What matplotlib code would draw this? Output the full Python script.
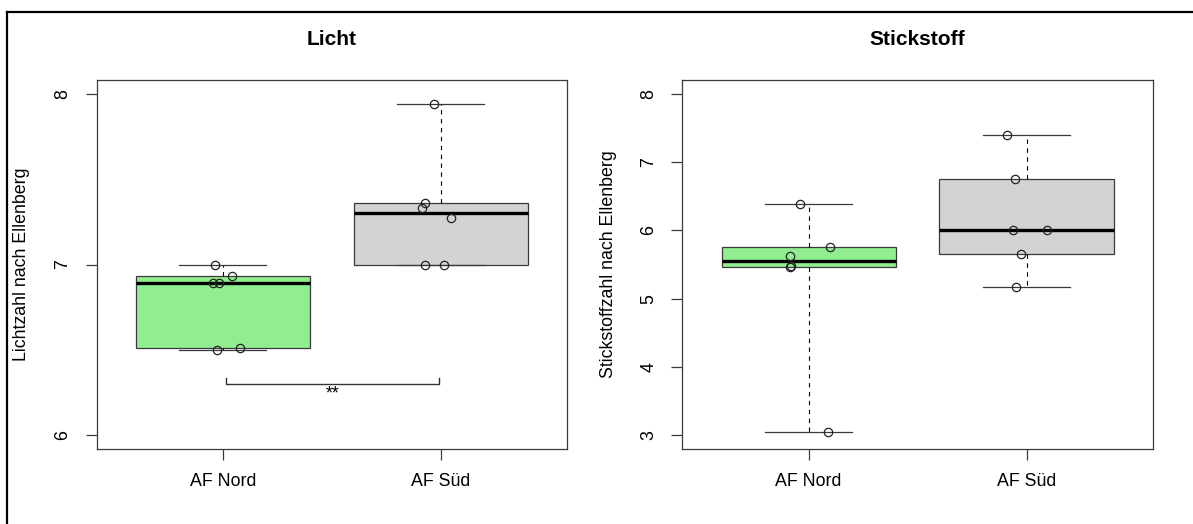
"""
Ellenberg indicator values (Licht / Stickstoff) for AF Nord vs AF Süd,
drawn as R-style boxplots with jittered raw points.
"""
import matplotlib
matplotlib.use("Agg")
import matplotlib.pyplot as plt
from matplotlib.lines import Line2D
import numpy as np

plt.rcParams["font.family"] = ["Liberation Sans", "DejaVu Sans"]

GROUPS = ["AF Nord", "AF Süd"]
BOX_COLORS = ["#90EE90", "#D3D3D3"]

# Licht (light indicator) values and their jittered x positions
licht_nord = [7.00, 6.93, 6.89, 6.89, 6.50, 6.51]
licht_nord_x = [0.963, 1.044, 0.956, 0.982, 0.972, 1.079]
licht_sued = [7.94, 7.36, 7.33, 7.27, 7.00, 7.00]
licht_sued_x = [1.967, 1.926, 1.912, 2.046, 1.928, 2.017]

# Stickstoff (nitrogen indicator) values and jittered x positions
stick_nord = [6.38, 5.75, 5.63, 5.47, 5.48, 3.05]
stick_nord_x = [0.959, 1.099, 0.914, 0.912, 0.918, 1.090]
stick_sued = [7.40, 6.75, 6.00, 6.00, 5.65, 5.17]
stick_sued_x = [1.908, 1.947, 1.938, 2.095, 1.974, 1.952]

# significance bracket for Licht
sig_x = [1.014, 1.991]
sig_y = 6.30
sig_tip = 6.335
sig_label = "**"
sig_label_y = 6.24

EDGE = "#3a3a3a"
FS = 12.8


def fivenum_stats(values, label):
    """Tukey hinges like R's boxplot, whiskers to the extremes."""
    v = np.sort(np.asarray(values, dtype=float))
    n = len(v)
    half = (n + 1) // 2
    lower = v[:half]
    upper = v[n - half:]
    return {
        "med": float(np.median(v)),
        "q1": float(np.median(lower)),
        "q3": float(np.median(upper)),
        "whislo": float(v.min()),
        "whishi": float(v.max()),
        "fliers": [],
        "label": label,
    }


def r_boxplot(ax, data, xs, title, ylabel, ylim, yticks):
    stats = [fivenum_stats(d, g) for d, g in zip(data, GROUPS)]
    bp = ax.bxp(
        stats, positions=[1, 2], widths=0.8, patch_artist=True,
        showfliers=False, capwidths=0.4,
        boxprops=dict(edgecolor=EDGE, linewidth=0.9),
        medianprops=dict(color="black", linewidth=2.4, solid_capstyle="butt"),
        whiskerprops=dict(color="black", linewidth=0.8, linestyle=(0, (4, 4))),
        capprops=dict(color=EDGE, linewidth=0.9),
    )
    for patch, c in zip(bp["boxes"], BOX_COLORS):
        patch.set_facecolor(c)
    for d, x in zip(data, xs):
        ax.plot(x, d, linestyle="none", marker="o", markersize=6,
                markerfacecolor="none", markeredgecolor="#222222",
                markeredgewidth=0.9, zorder=5)

    lo, hi = ylim
    pad = (hi - lo) * 0.04
    ax.set_ylim(lo - pad, hi + pad)
    ax.set_xlim(0.5 - 0.04 * 2, 2.5 + 0.04 * 2)
    ax.set_yticks(yticks)
    ax.set_yticklabels([str(t) for t in yticks], rotation=90, va="center")
    ax.set_xticks([1, 2])
    ax.set_xticklabels(GROUPS)
    ax.tick_params(axis="both", labelsize=FS, length=8, width=0.9, color=EDGE)
    ax.tick_params(axis="x", pad=9)
    ax.tick_params(axis="y", pad=10)
    for s in ax.spines.values():
        s.set_color(EDGE)
        s.set_linewidth(0.9)
    ax.set_title(title, fontsize=15, fontweight="bold", pad=25)
    ax.set_ylabel(ylabel, fontsize=FS, va="center")


fig = plt.figure(figsize=(11.93, 5.24), dpi=100)
ax1 = fig.add_axes([0.0809, 0.1431, 0.3944, 0.7042])
ax2 = fig.add_axes([0.5719, 0.1431, 0.3946, 0.7042])

r_boxplot(ax1, [licht_nord, licht_sued], [licht_nord_x, licht_sued_x],
          "Licht", "Lichtzahl nach Ellenberg", (6, 8), [6, 7, 8])
ax1.yaxis.set_label_coords(-0.160, 0.5)
ax1.plot([sig_x[0], sig_x[0], sig_x[1], sig_x[1]],
         [sig_tip, sig_y, sig_y, sig_tip], color="#333333", linewidth=1.0)
ax1.text(np.mean(sig_x), sig_label_y, sig_label, ha="center", va="center",
         fontsize=FS)

r_boxplot(ax2, [stick_nord, stick_sued], [stick_nord_x, stick_sued_x],
          "Stickstoff", "Stickstoffzahl nach Ellenberg", (3, 8),
          [3, 4, 5, 6, 7, 8])
ax2.yaxis.set_label_coords(-0.157, 0.5)

# screenshot frame: top and left edge only
W, H = 1193, 524
fig.add_artist(Line2D([7 / W, 1], [1 - 12 / H, 1 - 12 / H],
                      transform=fig.transFigure, color="black", linewidth=1.6))
fig.add_artist(Line2D([7 / W, 7 / W], [0, 1 - 12 / H],
                      transform=fig.transFigure, color="black", linewidth=1.6))

fig.savefig("out.png", dpi=100)
